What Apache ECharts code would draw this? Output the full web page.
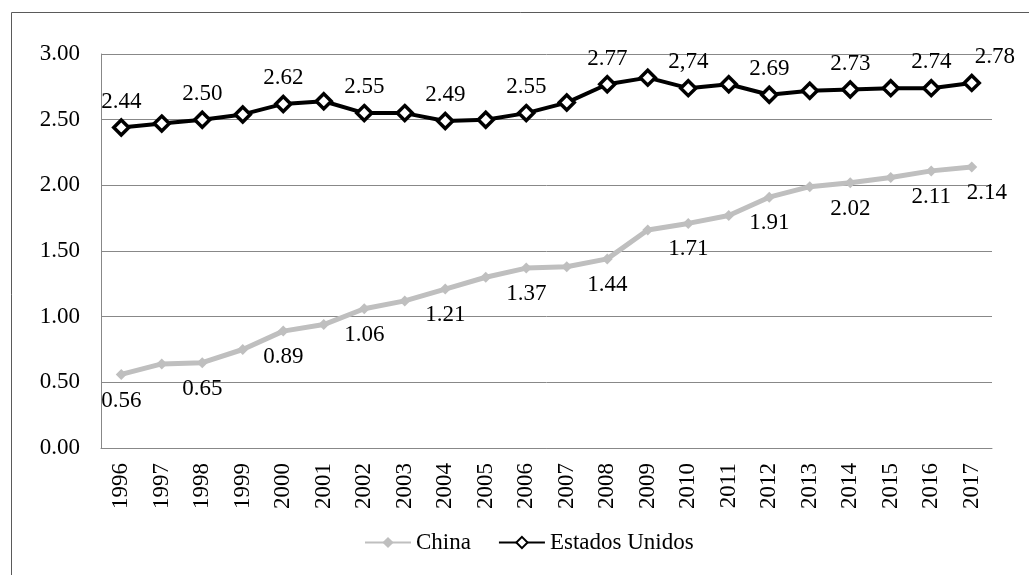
<!DOCTYPE html>
<html>
<head>
<meta charset="utf-8">
<script src="https://cdn.jsdelivr.net/npm/echarts@6/dist/echarts.min.js"></script>
<style>
html,body{margin:0;padding:0;background:#fff;}
#c{width:1029px;height:575px;}
</style>
</head>
<body>
<div id="c"></div>
<script>
var years = ['1996','1997','1998','1999','2000','2001','2002','2003','2004','2005','2006','2007','2008','2009','2010','2011','2012','2013','2014','2015','2016','2017'];
var china = [0.56,0.64,0.65,0.75,0.89,0.94,1.06,1.12,1.21,1.30,1.37,1.38,1.44,1.66,1.71,1.77,1.91,1.99,2.02,2.06,2.11,2.14];
var usa = [2.44,2.47,2.50,2.54,2.62,2.64,2.55,2.55,2.49,2.50,2.55,2.63,2.77,2.82,2.74,2.77,2.69,2.72,2.73,2.74,2.74,2.78];
var chinaLabels = ['0.56','','0.65','','0.89','','1.06','','1.21','','1.37','','1.44','','1.71','','1.91','','2.02','','2.11','2.14'];
var usaLabels = ['2.44','','2.50','','2.62','','2.55','','2.49','','2.55','','2.77','','2,74','','2.69','','2.73','','2.74','2.78'];
var yTicks = ['0.00','0.50','1.00','1.50','2.00','2.50','3.00'];

var FONT = '"Liberation Serif", "Times New Roman", serif';
var FS = 23;

function build(values, labels, lastOffset) {
  return values.map(function (v, i) {
    var item = { value: v };
    if (labels[i]) {
      item.label = { show: true, formatter: labels[i] };
      if (i === values.length - 1) item.label.offset = lastOffset;
    } else {
      item.label = { show: false };
    }
    return item;
  });
}

var chart = echarts.init(document.getElementById('c'));
chart.setOption({
  animation: false,
  backgroundColor: '#ffffff',
  textStyle: { fontFamily: FONT },
  graphic: [{
    type: 'rect', silent: true, z: -1,
    shape: { x: 11.5, y: 12.5, width: 1040, height: 600 },
    style: { fill: 'none', stroke: '#5a5a5a', lineWidth: 1 }
  }],
  grid: { left: 101, right: 37, top: 54, bottom: 127, containLabel: false },
  legend: {
    left: 359, top: 526,
    itemWidth: 46, itemHeight: 14, itemGap: 27,
    textStyle: { fontFamily: FONT, fontSize: FS, color: '#000' },
    data: ['China', 'Estados Unidos']
  },
  xAxis: {
    type: 'category',
    data: years,
    boundaryGap: true,
    axisLine: { show: true, lineStyle: { color: '#888888', width: 1 } },
    axisTick: { show: false },
    axisLabel: { rotate: 90, margin: 15, fontFamily: FONT, fontSize: FS, color: '#000', interval: 0 }
  },
  yAxis: {
    type: 'value',
    min: 0, max: 3, interval: 0.5,
    axisLine: { show: true, lineStyle: { color: '#888888', width: 1 } },
    axisTick: { show: false },
    splitLine: { show: true, lineStyle: { color: '#888888', width: 1 } },
    axisLabel: {
      margin: 21, fontFamily: FONT, fontSize: FS, color: '#000',
      formatter: function (v) { return yTicks[Math.round(v / 0.5)]; }
    }
  },
  series: [
    {
      name: 'China', type: 'line',
      data: build(china, chinaLabels, [15, 0]),
      symbol: 'diamond', symbolSize: 11,
      lineStyle: { color: '#bfbfbf', width: 5 },
      itemStyle: { color: '#bfbfbf' },
      label: { position: 'bottom', distance: 9, fontFamily: FONT, fontSize: FS, color: '#000' },
      z: 2
    },
    {
      name: 'Estados Unidos', type: 'line',
      data: build(usa, usaLabels, [23, 0]),
      symbol: 'diamond', symbolSize: 15,
      lineStyle: { color: '#000000', width: 4 },
      itemStyle: { color: '#ffffff', borderColor: '#000000', borderWidth: 3.5 },
      label: { position: 'top', distance: 5, fontFamily: FONT, fontSize: FS, color: '#000' },
      z: 3
    }
  ]
});
</script>
</body>
</html>
